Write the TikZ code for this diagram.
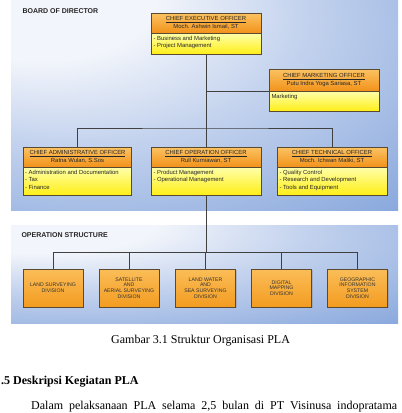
\documentclass[tikz,border=0pt]{standalone}
\usepackage{fontspec}
\setmainfont{Liberation Serif}
\setsansfont{Liberation Sans}
\usetikzlibrary{shadows}
\definecolor{boxline}{HTML}{5A4A32}
\definecolor{headtop}{HTML}{FBC363}
\definecolor{headbot}{HTML}{F2921A}
\definecolor{bodytop}{HTML}{FFFFA8}
\definecolor{bodybot}{HTML}{FFEE14}
\definecolor{divtop}{HTML}{FBBD58}
\definecolor{divbot}{HTML}{F39C20}
\definecolor{panelA}{HTML}{F2F5FB}
\definecolor{panelB}{HTML}{C4D3EE}
\definecolor{panelC}{HTML}{86A6DC}
\definecolor{panelD}{HTML}{4F7DCA}
\definecolor{panelE}{HTML}{3C6BBE}
\pgfdeclareradialshading{panel}{\pgfpoint{-25bp}{30bp}}{color(0bp)=(panelA); color(15bp)=(panelA); color(30bp)=(panelB); color(55bp)=(panelC); color(75bp)=(panelD); color(100bp)=(panelE)}
\newcommand{\duties}[2]{\parbox[c][#1][t]{105pt}{#2}}

\begin{document}
\begin{tikzpicture}[x=1pt, y=-1pt,
	head/.style={draw=boxline, line width=0.5pt, top color=headtop, bottom color=headbot, minimum width=#1, minimum height=20pt, inner sep=0pt, align=center, text=black!85, font=\sffamily\fontsize{5.9}{7.6}\selectfont},
	head/.default=110pt,
	body/.style={draw=boxline, line width=0.5pt, top color=bodytop, bottom color=bodybot, minimum width=#1, inner xsep=1.5pt, inner ysep=2.5pt, anchor=north, text=black!85, font=\sffamily\fontsize{5.9}{7.6}\selectfont},
	body/.default=110pt,
	division/.style={draw=boxline, line width=0.5pt, top color=divtop, bottom color=divbot, minimum width=60pt, minimum height=38pt, inner sep=0pt, align=center, text=black!80, font=\sffamily\fontsize{5.2}{5.6}\selectfont, drop shadow={shadow xshift=1pt, shadow yshift=-1pt, opacity=0.35}},
	section/.style={anchor=west, text=black!85, font=\sffamily\bfseries\fontsize{7}{8}\selectfont},
	wire/.style={draw=black!75, line width=0.5pt}]
	\useasboundingbox (0,0) rectangle (402,413);
	\clip (0,0) rectangle (402,413);
	\shade[shading=panel] (11,0) rectangle (398,210);
	\shade[shading=panel] (11,225) rectangle (398,323);
	\node[section] (board) at (19,11) {BOARD OF DIRECTOR};
	\node[section] (ops) at (18,235) {OPERATION STRUCTURE};

	\node[head] (ceo) at (206,23) {\underline{CHIEF EXECUTIVE OFFICER}\\Moch. Ashwin Ismail, ST};
	\node[body] (ceoBody) at (ceo.south) {\duties{16pt}{- Business and Marketing\\- Project Management}};
	\node[head, minimum height=22pt] (cmo) at (324,80) {\underline{CHIEF MARKETING OFFICER}\\Putu Indra Yoga Sariasa, ST};
	\node[body] (cmoBody) at (cmo.south) {\duties{15pt}{Marketing}};
	\node[head=108pt] (cao) at (77.5,157) {\underline{CHIEF ADMINISTRATIVE OFFICER}\\Ratna Wulan, S.Sos};
	\node[body=108pt] (caoBody) at (cao.south) {\duties{23pt}{- Administration and Documentation\\- Tax\\- Finance}};
	\node[head] (coo) at (206,157) {\underline{CHIEF OPERATION OFFICER}\\Rull Kurniawan, ST};
	\node[body] (cooBody) at (coo.south) {\duties{23pt}{- Product Management\\- Operational Management}};
	\node[head] (cto) at (332,157) {\underline{CHIEF TECHNICAL OFFICER}\\Moch. Ichwan Maliki, ST};
	\node[body] (ctoBody) at (cto.south) {\duties{23pt}{- Quality Control\\- Research and Development\\- Tools and Equipment}};

	\coordinate (boardBus) at (206,128);
	\coordinate (opsBus) at (206,252);
	\draw[wire] (ceoBody.south) -- (coo.north);
	\draw[wire] (ceoBody.south |- cmo.south west) -- (cmo.south west);
	\draw[wire] (cao.north) |- (boardBus) -| (cto.north);
	\draw[wire] (cooBody.south) -- (opsBus);

	\foreach \i/\x/\txt in {1/53/{LAND SURVEYING\\DIVISION}, 2/129/{SATELLITE\\AND\\AERIAL SURVEYING\\DIVISION}, 3/205.5/{LAND WATER\\AND\\SEA SURVEYING\\DIVISION}, 4/281.5/{DIGITAL\\MAPPING\\DIVISION}, 5/357.5/{GEOGRAPHIC\\INFORMATION\\SYSTEM\\DIVISION}} {
		\node[division] (div\i) at (\x,288) {\txt};
		\draw[wire] (div\i.north) |- (opsBus);
	}

	\node[anchor=base west, inner sep=0pt, font=\fontsize{12}{14}\selectfont] (caption) at (111,343) {Gambar 3.1 Struktur Organisasi PLA};
	\node[anchor=base west, inner sep=0pt, font=\bfseries\fontsize{12}{14}\selectfont] (heading) at (1,384) {.5 Deskripsi Kegiatan PLA};
	\node[anchor=base west, inner sep=0pt, font=\fontsize{12}{14}\selectfont] (para) at (31,409.5) {\makebox[366pt][s]{Dalam pelaksanaan PLA selama 2,5 bulan di PT Visinusa indopratama}};
\end{tikzpicture}
\end{document}
